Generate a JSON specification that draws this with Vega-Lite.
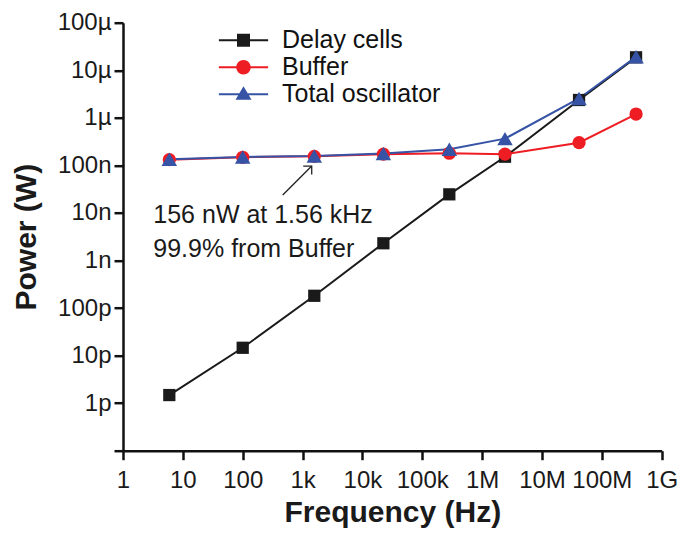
{
  "$schema": "https://vega.github.io/schema/vega-lite/v6.json",
  "width": 538.7,
  "height": 428,
  "autosize": {"type": "none"},
  "padding": {"left": 123, "top": 22.7, "right": 27.3, "bottom": 86.3},
  "background": "white",
  "config": {
    "view": {"stroke": null},
    "font": "Liberation Sans",
    "axis": {
      "domainColor": "#111111",
      "domainWidth": 2.5,
      "tickColor": "#111111",
      "tickWidth": 2.5,
      "tickSize": 9,
      "grid": false,
      "labelColor": "#1a1a1a",
      "labelFont": "Liberation Sans",
      "labelFontSize": 24,
      "titleColor": "#1a1a1a",
      "titleFont": "Liberation Sans",
      "titleFontSize": 30,
      "titleFontWeight": "bold"
    },
    "legend": {"padding": 0}
  },
  "datasets": {
    "power": [
      {"series": "Delay cells", "freq": 5.94, "power": 1.48e-12},
      {"series": "Delay cells", "freq": 100, "power": 1.46e-11},
      {"series": "Delay cells", "freq": 1570, "power": 1.81e-10},
      {"series": "Delay cells", "freq": 22400, "power": 2.3e-9},
      {"series": "Delay cells", "freq": 283000, "power": 2.46e-8},
      {"series": "Delay cells", "freq": 2410000, "power": 1.52e-7},
      {"series": "Delay cells", "freq": 41600000, "power": 2.37e-6},
      {"series": "Delay cells", "freq": 373000000, "power": 1.87e-5},
      {"series": "Buffer", "freq": 5.94, "power": 1.32e-7},
      {"series": "Buffer", "freq": 100, "power": 1.48e-7},
      {"series": "Buffer", "freq": 1570, "power": 1.55e-7},
      {"series": "Buffer", "freq": 22400, "power": 1.72e-7},
      {"series": "Buffer", "freq": 283000, "power": 1.8e-7},
      {"series": "Buffer", "freq": 2410000, "power": 1.72e-7},
      {"series": "Buffer", "freq": 41600000, "power": 3.0e-7},
      {"series": "Buffer", "freq": 373000000, "power": 1.2e-6},
      {"series": "Total oscillator", "freq": 5.94, "power": 1.34e-7},
      {"series": "Total oscillator", "freq": 100, "power": 1.5e-7},
      {"series": "Total oscillator", "freq": 1570, "power": 1.57e-7},
      {"series": "Total oscillator", "freq": 22400, "power": 1.78e-7},
      {"series": "Total oscillator", "freq": 283000, "power": 2.18e-7},
      {"series": "Total oscillator", "freq": 2410000, "power": 3.65e-7},
      {"series": "Total oscillator", "freq": 41600000, "power": 2.55e-6},
      {"series": "Total oscillator", "freq": 373000000, "power": 1.92e-5}
    ],
    "notes": [
      {"freq": 3.21, "power": 6.28e-9, "label": "156 nW at 1.56 kHz"},
      {"freq": 3.21, "power": 1.21e-9, "label": "99.9% from Buffer"}
    ],
    "arrow": [
      {"freq": 1422, "power": 9.68e-8, "freq2": 466, "power2": 2.38e-8}
    ]
  },
  "encoding": {
    "x": {
      "field": "freq",
      "type": "quantitative",
      "scale": {"type": "log", "domain": [1, 1000000000], "nice": false},
      "axis": {
        "title": "Frequency (Hz)",
        "values": [1, 10, 100, 1000, 10000, 100000, 1000000, 10000000, 100000000, 1000000000],
        "labelExpr": "format(datum.value, '~s')",
        "labelPadding": 9,
        "labelFlush": false,
        "labelOverlap": false,
        "titleY": 71,
        "titleBaseline": "alphabetic"
      }
    },
    "y": {
      "field": "power",
      "type": "quantitative",
      "scale": {"type": "log", "domain": [1e-13, 1e-4], "nice": false},
      "axis": {
        "title": "Power (W)",
        "values": [1e-13, 1e-12, 1e-11, 1e-10, 1e-9, 1e-8, 1e-7, 1e-6, 1e-5, 1e-4],
        "labelExpr": "datum.value < 5e-13 ? '' : format(datum.value, '~s')",
        "labelPadding": 3,
        "labelFlush": false,
        "labelOverlap": false,
        "titleAngle": -90,
        "titleX": -88,
        "titleY": 214,
        "titleAlign": "center",
        "titleBaseline": "alphabetic"
      }
    }
  },
  "layer": [
    {
      "data": {"name": "power"},
      "encoding": {
        "color": {
          "field": "series",
          "type": "nominal",
          "scale": {"range": ["#ee1d23", "#1a1a1a", "#3653a5"]},
          "legend": null
        }
      },
      "layer": [
        {
          "mark": {"type": "line", "strokeWidth": 2},
          "encoding": {
            "order": {"field": "freq", "type": "quantitative"}
          }
        },
        {
          "transform": [{"filter": "datum.series === 'Delay cells'"}],
          "mark": {"type": "point", "filled": true, "opacity": 1, "shape": "square", "size": 150}
        },
        {
          "transform": [{"filter": "datum.series === 'Buffer'"}],
          "mark": {"type": "point", "filled": true, "opacity": 1, "shape": "circle", "size": 175}
        },
        {
          "transform": [{"filter": "datum.series === 'Total oscillator'"}],
          "mark": {"type": "point", "filled": true, "opacity": 1, "shape": "triangle-up", "size": 240}
        }
      ]
    },
    {
      "data": {"name": "arrow"},
      "mark": {"type": "rule", "color": "#222222", "strokeWidth": 1.3},
      "encoding": {
        "x2": {"field": "freq2"},
        "y2": {"field": "power2"}
      }
    },
    {
      "data": {"name": "arrow"},
      "mark": {"type": "point", "shape": "M-1,0L0,0L0,1", "filled": false, "fill": null, "stroke": "#222222", "strokeWidth": 1.3, "size": 289, "opacity": 1}
    },
    {
      "data": {"name": "notes"},
      "mark": {"type": "text", "align": "left", "baseline": "alphabetic", "fontSize": 25, "font": "Liberation Sans", "color": "#1a1a1a"},
      "encoding": {
        "text": {"field": "label"}
      }
    },
    {
      "data": {"name": "power"},
      "transform": [{"filter": "false"}],
      "mark": {"type": "point", "filled": true, "opacity": 1, "strokeWidth": 0},
      "encoding": {
        "fill": {
          "field": "series",
          "type": "nominal",
          "scale": {"domain": ["Delay cells", "Buffer", "Total oscillator"], "range": ["#1a1a1a", "#ee1d23", "#3653a5"]},
          "legend": {
            "title": null,
            "orient": "none",
            "legendX": 108,
            "legendY": 5,
            "symbolSize": 625,
            "symbolStrokeWidth": 0,
            "labelFontSize": 25,
            "labelColor": "#111111",
            "labelFont": "Liberation Sans",
            "labelOffset": 26,
            "rowPadding": 1,
            "symbolOpacity": 1
          }
        },
        "shape": {
          "field": "series",
          "type": "nominal",
          "scale": {
            "domain": ["Delay cells", "Buffer", "Total oscillator"],
            "range": [
              "M-1.97,-0.08H1.97V0.08H-1.97Z M-0.52,-0.52H0.52V0.52H-0.52Z",
              "M-1.97,-0.08H1.97V0.08H-1.97Z M-0.58,0A0.58,0.58,0,1,1,0.58,0A0.58,0.58,0,1,1,-0.58,0Z",
              "M-1.97,-0.08H1.97V0.08H-1.97Z M0,-0.64L0.64,0.44L-0.64,0.44Z"
            ]
          },
          "legend": {
            "title": null,
            "orient": "none",
            "legendX": 108,
            "legendY": 5,
            "symbolSize": 625,
            "symbolStrokeWidth": 0,
            "labelFontSize": 25,
            "labelColor": "#111111",
            "labelFont": "Liberation Sans",
            "labelOffset": 26,
            "rowPadding": 1,
            "symbolOpacity": 1
          }
        }
      }
    }
  ]
}
